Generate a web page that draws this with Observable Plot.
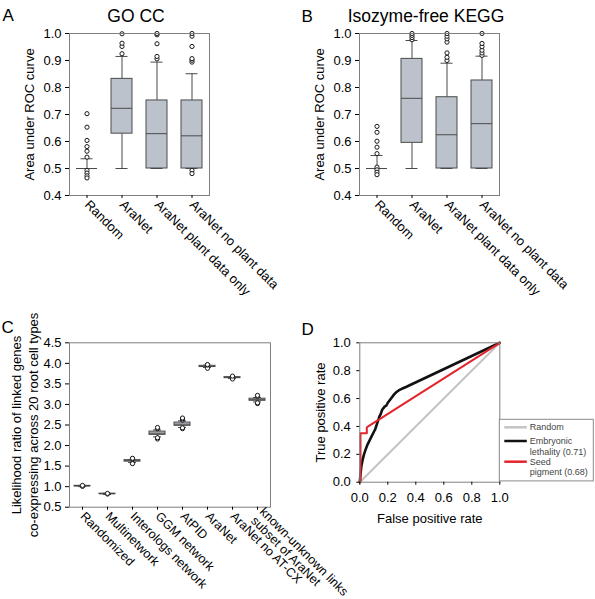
<!DOCTYPE html>
<html><head><meta charset="utf-8">
<script src="https://cdn.jsdelivr.net/npm/d3@7"></script>
<script src="https://cdn.jsdelivr.net/npm/@observablehq/plot@0.6"></script>
<style>
body{margin:0;background:#fff;font-family:"Liberation Sans",Arial,Helvetica,sans-serif;}
#root{position:relative;width:595px;height:599px;overflow:hidden;background:#fff;}
.panel{position:absolute;}
.panel svg{overflow:visible;}
#overlay{position:absolute;left:0;top:0;pointer-events:none;}
</style></head><body><div id="root"></div>
<script>
const F = "Liberation Sans, Arial, Helvetica, sans-serif";

// ---------- Panels A & B ----------
const catsAB = ["Random", "AraNet", "AraNet plant data only", "AraNet no plant data"];
// A: GO CC
const goQ1  = [0.5, 0.629, 0.5, 0.5];
const goMed = [0.5, 0.723, 0.629, 0.621];
const goQ3  = [0.5, 0.832, 0.752, 0.752];
const goLo  = [0.5, 0.5, 0.5, 0.5];
const goHi  = [0.536, 0.915, 0.894, 0.851];
const goOut = [
  [0.703, 0.653, 0.604, 0.581, 0.564, 0.542, 0.493, 0.483, 0.473, 0.465],
  [0.925, 0.952, 0.964, 0.999],
  [0.906, 0.915, 0.962, 0.995, 1.0],
  [0.894, 0.901, 0.907, 0.952, 0.99, 1.0, 0.493, 0.481]
];
// B: Isozyme-free KEGG
const kgQ1  = [0.5, 0.595, 0.5, 0.5];
const kgMed = [0.5, 0.76, 0.625, 0.666];
const kgQ3  = [0.5, 0.906, 0.764, 0.826];
const kgLo  = [0.5, 0.5, 0.5, 0.5];
const kgHi  = [0.548, 0.974, 0.89, 0.916];
const kgOut = [
  [0.656, 0.634, 0.601, 0.579, 0.555, 0.505, 0.495, 0.486, 0.477],
  [0.977, 0.985, 0.993, 1.0],
  [0.9, 0.912, 0.928, 0.968, 0.98, 0.99, 1.0],
  [0.919, 0.928, 0.938, 0.951, 0.963, 1.0]
];
const ticksAB = [0.4, 0.5, 0.6, 0.7, 0.8, 0.9, 1.0];

// ---------- Panel C ----------
const catsC = ["Randomized", "Multinetwork", "Interologs network", "GGM network", "AtPID", "AraNet", "AraNet no AT-CX", "known-unknown links\nsubset of AraNet"];
const cQ1  = [1.01, 0.82, 1.61, 2.26, 2.48, 3.91, 3.64, 3.09];
const cMed = [1.015, 0.825, 1.63, 2.30, 2.52, 3.925, 3.655, 3.115];
const cQ3  = [1.02, 0.83, 1.645, 2.34, 2.56, 3.94, 3.665, 3.14];
const cLo  = [1.0, 0.81, 1.59, 2.21, 2.44, 3.9, 3.63, 3.06];
const cHi  = [1.03, 0.84, 1.66, 2.38, 2.60, 3.955, 3.68, 3.17];
const cOut = [
  [1.005, 1.03], [0.82, 0.835], [1.57, 1.56, 1.68, 1.69], [2.16, 2.19, 2.41, 2.44],
  [2.41, 2.43, 2.62, 2.65, 2.67], [3.88, 3.96, 3.97], [3.62, 3.69], [3.02, 3.04, 3.2, 3.22]
];
const ticksC = [0.5, 1.0, 1.5, 2.0, 2.5, 3.0, 3.5, 4.0, 4.5];

// ---------- Panel D ----------
const randFpr = [0, 1];
const randTpr = [0, 1];
const embFpr = [0, 0.005, 0.012, 0.02, 0.03, 0.04, 0.055, 0.07, 0.085, 0.1, 0.11, 0.12, 0.13, 0.14, 0.15, 0.16, 0.175, 0.19, 0.2, 0.215, 0.23, 0.245, 0.26, 0.28, 0.3, 0.33, 0.36, 1];
const embTpr = [0, 0.06, 0.12, 0.16, 0.2, 0.23, 0.27, 0.3, 0.33, 0.36, 0.38, 0.41, 0.44, 0.47, 0.49, 0.52, 0.54, 0.55, 0.57, 0.59, 0.61, 0.63, 0.645, 0.66, 0.67, 0.683, 0.697, 1];
const seedFpr = [0, 0.005, 0.005, 0.05, 0.05, 0.06, 1];
const seedTpr = [0, 0, 0.352, 0.352, 0.394, 0.4, 1];
const ticksD = [0, 0.2, 0.4, 0.6, 0.8, 1.0];
const legendLabels = ["Random", "Embryonic\nlethality (0.71)", "Seed\npigment (0.68)"];
const legendColors = ["#c4c4c4", "#111111", "#e3242b"];

const root = document.getElementById("root");
function place(el, left, top) {
  const d = document.createElement("div");
  d.className = "panel"; d.style.left = left + "px"; d.style.top = top + "px";
  d.appendChild(el); root.appendChild(d);
}

function boxChart(cfg) {
  const rows = cfg.cats.map((c, i) => ({c, q1: cfg.q1[i], med: cfg.med[i], q3: cfg.q3[i], lo: cfg.lo[i], hi: cfg.hi[i]}));
  const outs = cfg.cats.flatMap((c, i) => cfg.out[i].map(v => ({c, v})));
  const line = "#4a4a4a";
  const marks = [
    Plot.ruleX(rows, {x: "c", y1: "lo", y2: "q1", stroke: line}),
    Plot.ruleX(rows, {x: "c", y1: "q3", y2: "hi", stroke: line}),
    Plot.tickY(rows, {x: "c", y: "lo", stroke: line, insetLeft: cfg.cap, insetRight: cfg.cap}),
    Plot.tickY(rows, {x: "c", y: "hi", stroke: line, insetLeft: cfg.cap, insetRight: cfg.cap}),
    Plot.barY(rows, {x: "c", y1: "q1", y2: "q3", fill: "#bcc2cc", stroke: line}),
    Plot.tickY(rows, {x: "c", y: "med", stroke: line}),
    Plot.dot(outs, {x: "c", y: "v", r: cfg.r, stroke: "#1a1a1a", fill: "white", strokeWidth: 1}),
    Plot.frame({stroke: "#7f7f7f"}),
    Plot.axisY({ticks: cfg.yTicks, tickFormat: d3.format(".1f"), tickSize: 4, tickPadding: 4, fontSize: 13,
      label: cfg.ylabel, labelAnchor: "center", labelArrow: "none", labelOffset: cfg.ylabOff}),
    Plot.axisX({tickRotate: 45, tickSize: 3, tickPadding: 4, fontSize: cfg.xfs, label: null})
  ];
  if (cfg.extra) marks.push(...cfg.extra);
  return Plot.plot({
    width: cfg.width, height: cfg.height,
    marginLeft: cfg.ml, marginRight: cfg.mr, marginTop: cfg.mt, marginBottom: cfg.mb,
    style: {fontFamily: F, fontSize: "13px", color: "#000", background: "transparent", overflow: "visible"},
    x: {domain: cfg.cats, paddingInner: cfg.pi, paddingOuter: cfg.pi / 2},
    y: {domain: cfg.yDomain},
    marks
  });
}

// Panel A
place(boxChart({cats: catsAB, q1: goQ1, med: goMed, q3: goQ3, lo: goLo, hi: goHi, out: goOut,
  width: 300, height: 300, ml: 69, mr: 91, mt: 33, mb: 105, pi: 0.4, cap: 4.5, r: 2.1, xfs: 13,
  yDomain: [0.4, 1.0], yTicks: ticksAB, ylabel: "Area under ROC curve", ylabOff: 45}), 0, 0);

// Panel B
place(boxChart({cats: catsAB, q1: kgQ1, med: kgMed, q3: kgQ3, lo: kgLo, hi: kgHi, out: kgOut,
  width: 305, height: 300, ml: 69, mr: 96, mt: 33, mb: 105, pi: 0.4, cap: 4.5, r: 2.1, xfs: 13,
  yDomain: [0.4, 1.0], yTicks: ticksAB, ylabel: "Area under ROC curve", ylabOff: 45}), 290, 0);

// Panel C
const cLabels = ["Likelihood ratio of linked genes", "co-expressing across 20 root cell types"];
place(boxChart({cats: catsC, q1: cQ1, med: cMed, q3: cQ3, lo: cLo, hi: cHi, out: cOut,
  width: 340, height: 299, ml: 69, mr: 70, mt: 42.3, mb: 92.3, pi: 0.36, cap: 4, r: 2.1, xfs: 12.5,
  yDomain: [0.5, 4.5], yTicks: ticksC, ylabel: null, ylabOff: 0,
  extra: [
    Plot.text([cLabels[0]], {text: d => d, frameAnchor: "left", rotate: -90, dx: -52.5, fontSize: 13, textAnchor: "middle"}),
    Plot.text([cLabels[1]], {text: d => d, frameAnchor: "left", rotate: -90, dx: -36, fontSize: 13, textAnchor: "middle"})
  ]}), 0, 300);

// Panel D
const toRows = (fx, ty) => fx.map((f, i) => ({f, t: ty[i]}));
const plotD = Plot.plot({
  width: 295, height: 299, marginLeft: 59.3, marginRight: 95.7, marginTop: 42.3, marginBottom: 117.3,
  style: {fontFamily: F, fontSize: "13px", color: "#000", background: "transparent", overflow: "visible"},
  x: {domain: [0, 1]}, y: {domain: [0, 1]},
  marks: [
    Plot.line(toRows(randFpr, randTpr), {x: "f", y: "t", stroke: legendColors[0], strokeWidth: 2}),
    Plot.line(toRows(embFpr, embTpr), {x: "f", y: "t", stroke: legendColors[1], strokeWidth: 2.6}),
    Plot.line(toRows(seedFpr, seedTpr), {x: "f", y: "t", stroke: legendColors[2], strokeWidth: 2}),
    Plot.frame({stroke: "#7f7f7f"}),
    Plot.axisX({ticks: ticksD, tickFormat: d3.format(".1f"), tickSize: 3, tickPadding: 8, fontSize: 13,
      label: "False positive rate", labelAnchor: "center", labelArrow: "none", labelOffset: 41}),
    Plot.axisY({ticks: ticksD, tickFormat: d3.format(".1f"), tickSize: 3, tickPadding: 6, fontSize: 13,
      label: "True positive rate", labelAnchor: "center", labelArrow: "none", labelOffset: 44})
  ]
});
place(plotD, 300, 300);

// Overlay: panel letters, titles, legend
const ov = d3.select(root).append("svg").attr("id", "overlay").attr("width", 595).attr("height", 599)
  .style("font-family", F);
const letters = [["A", 2.5, 20.7], ["B", 301.5, 21.7], ["C", 1.5, 333.3], ["D", 301.5, 335]];
ov.selectAll("text.letter").data(letters).join("text").attr("class", "letter")
  .attr("x", d => d[1]).attr("y", d => d[2]).attr("font-size", 17).text(d => d[0]);
const titles = [["GO CC", 136, 22], ["Isozyme-free KEGG", 426, 22]];
ov.selectAll("text.title").data(titles).join("text").attr("class", "title")
  .attr("x", d => d[1]).attr("y", d => d[2]).attr("font-size", 17.5).attr("text-anchor", "middle").text(d => d[0]);

const lg = ov.append("g").attr("transform", "translate(499.3,419.3)");
lg.append("rect").attr("width", 94).attr("height", 61.6).attr("fill", "white").attr("stroke", "#8a8a8a");
const rowY = [8, 21.7, 42.4];
legendLabels.forEach((lab, i) => {
  lg.append("line").attr("x1", 5).attr("x2", 27.5).attr("y1", rowY[i]).attr("y2", rowY[i])
    .attr("stroke", legendColors[i]).attr("stroke-width", 2.5);
  lab.split("\n").forEach((s, j) => {
    lg.append("text").attr("x", 30.5).attr("y", rowY[i] + 3.2 + j * 10.5)
      .attr("font-size", 9).attr("fill", "#444").text(s);
  });
});
</script></body></html>
